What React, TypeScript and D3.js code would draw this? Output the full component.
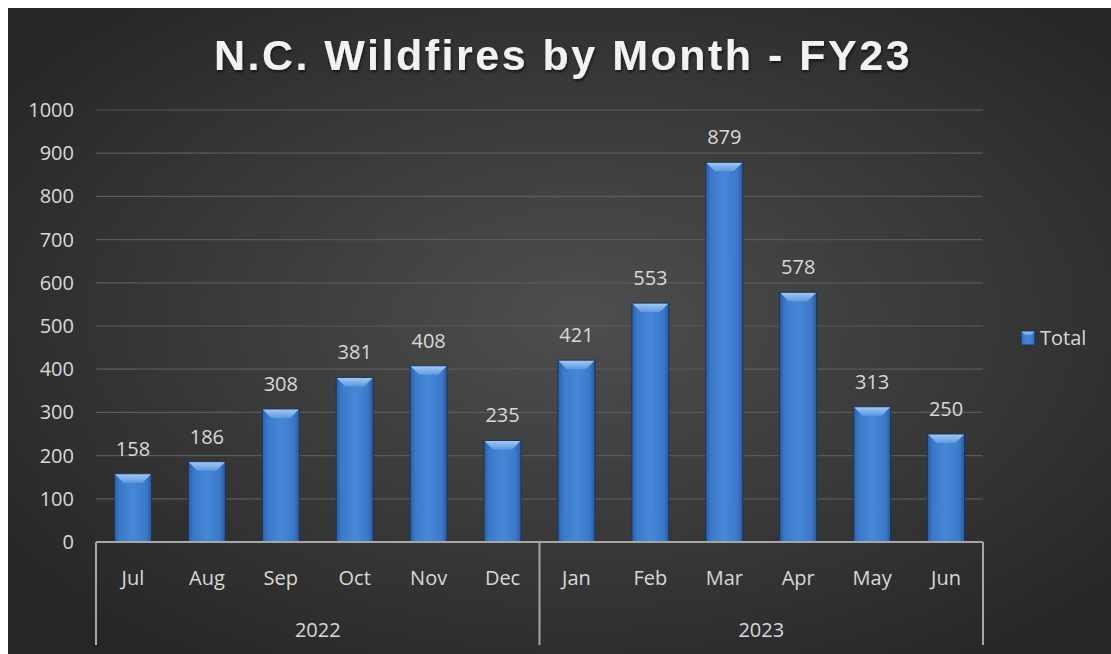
import * as d3 from 'd3';

const months = ['Jul', 'Aug', 'Sep', 'Oct', 'Nov', 'Dec', 'Jan', 'Feb', 'Mar', 'Apr', 'May', 'Jun'];
const totals = [158, 186, 308, 381, 408, 235, 421, 553, 879, 578, 313, 250];
const years = ['2022', '2023'];
const monthsPerYear = [6, 6];
const yTicks = [0, 100, 200, 300, 400, 500, 600, 700, 800, 900, 1000];

const W = 1103;
const H = 646;
const margin = { left: 88, right: 975, top: 102, bottom: 534 };
const font = '"Open Sans", "Noto Sans", sans-serif';

const App = () => {
  const x = d3.scaleBand<string>()
    .domain(months)
    .range([margin.left, margin.right])
    .paddingInner(0.5)
    .paddingOuter(0.25);

  const y = d3.scaleLinear()
    .domain([0, 1000])
    .range([margin.bottom, margin.top]);

  const bw = x.bandwidth();
  const bevel = 9;

  // year group boundaries
  const bounds: number[] = [margin.left];
  let acc = 0;
  monthsPerYear.forEach(n => {
    acc += n;
    bounds.push(margin.left + acc * x.step());
  });

  return (
    <svg
      width={W}
      height={H}
      style={{ position: 'absolute', left: 8, top: 8, display: 'block' }}
    >
      <defs>
        <radialGradient id="bg" cx="52%" cy="48%" r="65%">
          <stop offset="0%" stopColor="#4e4e4e" />
          <stop offset="100%" stopColor="#262626" />
        </radialGradient>
        <linearGradient id="barBody" x1="0" x2="1" y1="0" y2="0">
          <stop offset="0%" stopColor="#2c5fa6" />
          <stop offset="15%" stopColor="#3b7acb" />
          <stop offset="50%" stopColor="#4787d8" />
          <stop offset="85%" stopColor="#3b7acb" />
          <stop offset="100%" stopColor="#2a5a9e" />
        </linearGradient>
        <linearGradient id="barTop" x1="0" x2="0" y1="0" y2="1">
          <stop offset="0%" stopColor="#a5cbf4" />
          <stop offset="100%" stopColor="#5f98e0" />
        </linearGradient>
        <filter id="shadow" x="-10%" y="-30%" width="120%" height="160%">
          <feDropShadow dx="1" dy="2" stdDeviation="1.5" floodColor="#000" floodOpacity="0.6" />
        </filter>
      </defs>

      <rect x={0} y={0} width={W} height={H} fill="url(#bg)" />

      {/* title */}
      <text
        x={555}
        y={62}
        textAnchor="middle"
        fill="#f2f2f2"
        fontFamily='"Liberation Sans", Arial, sans-serif'
        fontWeight="bold"
        fontSize={43}
        letterSpacing={2.5}
        filter="url(#shadow)"
      >
        N.C. Wildfires by Month - FY23
      </text>

      {/* gridlines and y labels */}
      {yTicks.map(t => (
        <g key={t}>
          {t > 0 && (
            <line
              x1={margin.left}
              x2={margin.right}
              y1={y(t)}
              y2={y(t)}
              stroke="#5a5a5a"
              strokeWidth={1.2}
            />
          )}
          <text
            x={66}
            y={y(t)}
            dy="0.35em"
            textAnchor="end"
            fill="#d9d9d9"
            fontFamily={font}
            fontSize={20}
          >
            {t}
          </text>
        </g>
      ))}

      {/* bars */}
      {months.map((m, i) => {
        const x0 = x(m)!;
        const y0 = y(totals[i]);
        const h = y(0) - y0;
        return (
          <g key={m}>
            <rect x={x0} y={y0} width={bw} height={h} fill="url(#barBody)" />
            <polygon
              points={`${x0},${y0} ${x0 + bw},${y0} ${x0 + bw - bevel},${y0 + bevel} ${x0 + bevel},${y0 + bevel}`}
              fill="url(#barTop)"
            />
            <rect x={x0} y={y0} width={bw} height={h} fill="none" stroke="#1b3459" strokeWidth={1} />
            <text
              x={x0 + bw / 2}
              y={y0 - 18}
              textAnchor="middle"
              fill="#d9d9d9"
              fontFamily={font}
              fontSize={20}
            >
              {totals[i]}
            </text>
          </g>
        );
      })}

      {/* category axis */}
      <line x1={margin.left} x2={margin.right} y1={y(0)} y2={y(0)} stroke="#a6a6a6" strokeWidth={2} />
      {bounds.map((b, i) => (
        <line key={i} x1={b} x2={b} y1={y(0)} y2={637} stroke="#a6a6a6" strokeWidth={2} />
      ))}
      {months.map(m => (
        <text
          key={m}
          x={x(m)! + bw / 2}
          y={570}
          dy="0.35em"
          textAnchor="middle"
          fill="#d9d9d9"
          fontFamily={font}
          fontSize={20}
        >
          {m}
        </text>
      ))}
      {years.map((yr, i) => (
        <text
          key={yr}
          x={(bounds[i] + bounds[i + 1]) / 2}
          y={622}
          dy="0.35em"
          textAnchor="middle"
          fill="#d9d9d9"
          fontFamily={font}
          fontSize={20}
        >
          {yr}
        </text>
      ))}

      {/* legend */}
      <g transform="translate(1013,323)">
        <rect x={0} y={0} width={14} height={14} fill="url(#barBody)" />
        <polygon points="0,0 14,0 10,4 4,4" fill="url(#barTop)" />
        <rect x={0} y={0} width={14} height={14} fill="none" stroke="#1b3459" />
        <text x={19} y={7} dy="0.35em" fill="#d9d9d9" fontFamily={font} fontSize={20}>
          Total
        </text>
      </g>
    </svg>
  );
};

export default App;
